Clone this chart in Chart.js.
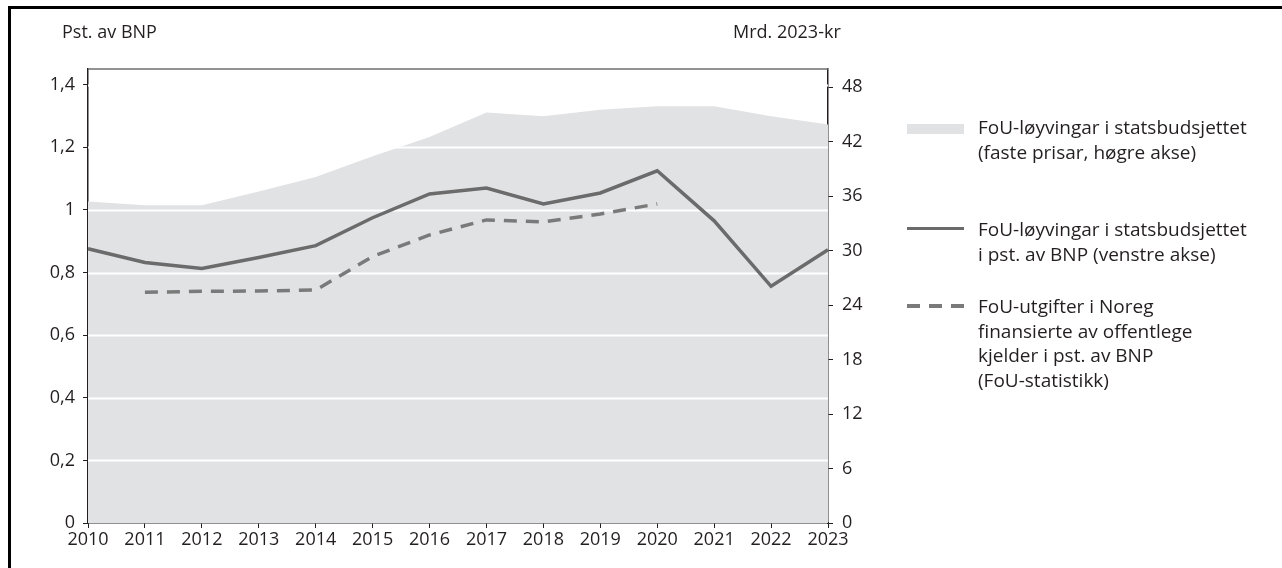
<!DOCTYPE html>
<html>
<head>
<meta charset="utf-8">
<script src="https://cdn.jsdelivr.net/npm/chart.js@4"></script>
<style>
  body { margin: 0; background: #fff; font-family: "Open Sans", sans-serif; color: #231f20; }
  #wrap { position: relative; width: 1282px; height: 568px; overflow: hidden; }
  #chart { position: absolute; left: 0; top: 0; }
  .frame-top { position: absolute; left: 8px; top: 6px; right: 0; height: 3px; background: #000; }
  .frame-left { position: absolute; left: 8px; top: 6px; bottom: 0; width: 3px; background: #000; }
  .unit { position: absolute; top: 19px; font-size: 18px; line-height: 25px; white-space: nowrap; }
  .item { position: absolute; left: 978px; font-size: 19px; line-height: 24.5px; white-space: nowrap; }
  .sw { position: absolute; left: 907px; width: 57px; }
</style>
</head>
<body>
<div id="wrap">
  <canvas id="chart" width="1282" height="568"></canvas>
  <div class="frame-top"></div>
  <div class="frame-left"></div>
  <div class="unit" style="left:62px">Pst. av BNP</div>
  <div class="unit" style="left:733px">Mrd. 2023-kr</div>

  <div class="sw" style="top:124px;height:10px;background:#e1e2e4"></div>
  <div class="item" style="top:115px">FoU-løyvingar i statsbudsjettet<br>(faste prisar, høgre akse)</div>

  <div class="sw" style="top:227px;height:0;border-top:3.5px solid #6b6b6b"></div>
  <div class="item" style="top:217px">FoU-løyvingar i statsbudsjettet<br>i pst. av BNP (venstre akse)</div>

  <div class="sw" style="top:304px;height:4px;background:repeating-linear-gradient(90deg,#7a7a7a 0 13px,transparent 13px 22px)"></div>
  <div class="item" style="top:294px">FoU-utgifter i Noreg<br>finansierte av offentlege<br>kjelder i pst. av BNP<br>(FoU-statistikk)</div>
</div>
<script>
const years = ['2010', '2011', '2012', '2013', '2014', '2015', '2016', '2017', '2018', '2019', '2020', '2021', '2022', '2023'];
// mrd. 2023-kr, right axis
const budgetFixed = [35.4, 35.0, 35.0, 36.5, 38.1, 40.4, 42.5, 45.2, 44.8, 45.5, 45.9, 45.9, 44.8, 43.9];
// pst. av BNP, left axis
const budgetShare = [0.876, 0.832, 0.813, 0.848, 0.886, 0.975, 1.051, 1.07, 1.019, 1.054, 1.125, 0.965, 0.756, 0.873];
const publicRnd = [null, 0.737, 0.74, 0.741, 0.744, 0.851, 0.92, 0.968, 0.962, 0.987, 1.019, null, null, null];
const leftTicks = [0, 0.2, 0.4, 0.6, 0.8, 1, 1.2, 1.4];
const rightTicks = [0, 6, 12, 18, 24, 30, 36, 42, 48];

const INK = '#231f20';
const FONT = {family: '"Open Sans", sans-serif', size: 18};

// white grid lines sit on top of the area but under the lines
const gridOverArea = {
  id: 'gridOverArea',
  afterDatasetDraw(chart, args) {
    if (args.index !== 0) return;
    const {ctx, chartArea, scales} = chart;
    ctx.save();
    ctx.strokeStyle = '#ffffff';
    ctx.lineWidth = 2;
    leftTicks.slice(1).forEach((v) => {
      const y = Math.round(scales.y.getPixelForValue(v)) + 0.5;
      ctx.beginPath();
      ctx.moveTo(chartArea.left, y);
      ctx.lineTo(chartArea.right, y);
      ctx.stroke();
    });
    ctx.restore();
  },
  afterDraw(chart) {
    const {ctx, chartArea} = chart;
    ctx.save();
    ctx.strokeStyle = '#6e6e6e';
    ctx.lineWidth = 1.5;
    ctx.beginPath();
    ctx.moveTo(chartArea.left, chartArea.top);
    ctx.lineTo(chartArea.right, chartArea.top);
    ctx.stroke();
    ctx.restore();
  }
};

const keepTicks = (list) => (scale) => {
  scale.ticks = list.map((v) => ({value: v}));
};

new Chart(document.getElementById('chart'), {
  type: 'line',
  data: {
    labels: years,
    datasets: [
      {
        label: 'FoU-løyvingar i statsbudsjettet (faste prisar, høgre akse)',
        data: budgetFixed,
        yAxisID: 'y2',
        fill: 'origin',
        backgroundColor: '#e1e2e4',
        borderWidth: 0,
        pointRadius: 0,
        order: 3
      },
      {
        label: 'FoU-løyvingar i statsbudsjettet i pst. av BNP (venstre akse)',
        data: budgetShare,
        yAxisID: 'y',
        borderColor: '#6b6b6b',
        borderWidth: 3.5,
        pointRadius: 0,
        fill: false,
        order: 1
      },
      {
        label: 'FoU-utgifter i Noreg finansierte av offentlege kjelder i pst. av BNP (FoU-statistikk)',
        data: publicRnd,
        yAxisID: 'y',
        borderColor: '#7a7a7a',
        borderWidth: 3.5,
        borderDash: [13, 9],
        pointRadius: 0,
        fill: false,
        spanGaps: false,
        order: 2
      }
    ]
  },
  options: {
    responsive: false,
    animation: false,
    layout: {padding: {top: 69, left: 0, right: 394, bottom: 10}},
    plugins: {legend: {display: false}, tooltip: {enabled: false}},
    scales: {
      x: {
        offset: false,
        grid: {drawOnChartArea: false, drawTicks: true, tickLength: 5, color: INK, lineWidth: 1},
        border: {color: INK, width: 1.5},
        ticks: {color: INK, font: FONT, padding: 1, maxRotation: 0, autoSkip: false},
        afterFit: (s) => { s.height = 35; }
      },
      y: {
        position: 'left',
        min: 0,
        max: 1.45,
        afterBuildTicks: keepTicks(leftTicks),
        grid: {drawOnChartArea: false, drawTicks: true, tickLength: 5, color: INK, lineWidth: 1},
        border: {color: INK, width: 1.5},
        ticks: {
          color: INK,
          font: FONT,
          padding: 8,
          callback: (v) => String(Math.round(v * 10) / 10).replace('.', ',')
        },
        afterFit: (s) => { s.width = 88; }
      },
      y2: {
        position: 'right',
        min: 0,
        max: 50,
        afterBuildTicks: keepTicks(rightTicks),
        grid: {drawOnChartArea: false, drawTicks: true, tickLength: 5, color: INK, lineWidth: 1},
        border: {color: INK, width: 1.5},
        ticks: {color: INK, font: FONT, padding: 9},
        afterFit: (s) => { s.width = 60; }
      }
    }
  },
  plugins: [gridOverArea]
});
</script>
</body>
</html>
